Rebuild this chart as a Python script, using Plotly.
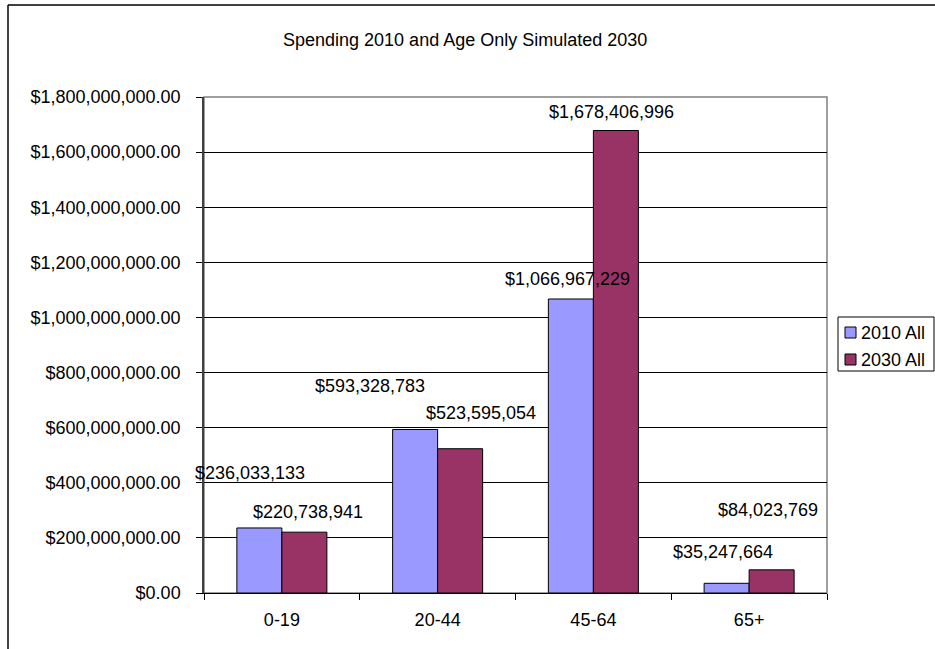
import plotly.graph_objects as go

categories = ["0-19", "20-44", "45-64", "65+"]
series_names = ["2010 All", "2030 All"]
spend_2010 = [236033133, 593328783, 1066967229, 35247664]
spend_2030 = [220738941, 523595054, 1678406996, 84023769]
y_ticks = [0, 200e6, 400e6, 600e6, 800e6, 1000e6, 1200e6, 1400e6, 1600e6, 1800e6]
title_text = "Spending 2010 and Age Only Simulated 2030"

colors = ["#9999FF", "#993366"]

# label offsets (pixels) relative to each bar's top-centre of its category
off_2010 = [(-32, 55), (-68, 44), (-26, 20), (-26, 31)]
off_2030 = [(26, 20), (43, 36), (18, 19), (19, 60)]

W, H = 935, 649
L, R, T, B = 204, 827, 97, 593
pw, ph = R - L, B - T

def px_x(p):
    return (p - L) / pw

def px_y(p):
    return (B - p) / ph

fig = go.Figure()
for name, vals, col in zip(series_names, [spend_2010, spend_2030], colors):
    fig.add_trace(go.Bar(
        x=categories, y=vals, name=name, showlegend=False,
        marker=dict(color=col, line=dict(color="black", width=1)),
    ))

font = dict(family="Liberation Sans, Arial, sans-serif", size=18, color="black")

annotations = []
for vals, offs in [(spend_2010, off_2010), (spend_2030, off_2030)]:
    for c, v, (dx, dy) in zip(categories, vals, offs):
        annotations.append(dict(
            x=c, y=v, xref="x", yref="y", text="$" + f"{v:,}",
            showarrow=False, xanchor="center", yanchor="middle",
            xshift=dx, yshift=dy, font=font,
        ))

annotations.append(dict(
    x=px_x(465), y=px_y(40), xref="paper", yref="paper", text=title_text,
    showarrow=False, xanchor="center", yanchor="middle", font=font,
))

shapes = [
    # plot area border (grey)
    dict(type="rect", xref="paper", yref="paper", x0=0, x1=1, y0=0, y1=1,
         line=dict(color="#808080", width=1.5), layer="below"),
    # outer chart border (top and left, cropped elsewhere)
    dict(type="line", xref="paper", yref="paper", x0=px_x(8), x1=px_x(940),
         y0=px_y(5), y1=px_y(5), line=dict(color="black", width=1.5)),
    dict(type="line", xref="paper", yref="paper", x0=px_x(8), x1=px_x(8),
         y0=px_y(5), y1=px_y(660), line=dict(color="black", width=1.5)),
    # legend box
    dict(type="rect", xref="paper", yref="paper", x0=px_x(838), x1=px_x(934),
         y0=px_y(371), y1=px_y(317), line=dict(color="black", width=1),
         fillcolor="white"),
]

# legend entries
for i, (name, col) in enumerate(zip(series_names, colors)):
    cy = 332.5 + 27 * i
    shapes.append(dict(
        type="rect", xref="paper", yref="paper",
        x0=px_x(845), x1=px_x(856), y0=px_y(cy + 5.5), y1=px_y(cy - 5.5),
        fillcolor=col, line=dict(color="black", width=1),
    ))
    annotations.append(dict(
        x=px_x(859), y=px_y(cy), xref="paper", yref="paper", text=name,
        showarrow=False, xanchor="left", yanchor="middle", font=font,
    ))

fig.update_layout(
    width=W, height=H,
    margin=dict(l=L, r=W - R, t=T, b=H - B, pad=0, autoexpand=False),
    paper_bgcolor="white", plot_bgcolor="white",
    barmode="group", bargap=0.422, bargroupgap=0,
    font=font,
    showlegend=False,
    annotations=annotations,
    shapes=shapes,
    xaxis=dict(
        type="category", range=[-0.5, 3.5], showline=True, linecolor="black",
        linewidth=1, ticks="outside", ticklen=6, tickcolor="black",
        tickson="boundaries", showgrid=False, ticklabelstandoff=10,
        tickfont=font, fixedrange=True, automargin=False,
    ),
    yaxis=dict(
        range=[0, 1800e6], tickvals=y_ticks, tickformat="$,.2f",
        showline=True, linecolor="#404040", linewidth=1.5,
        ticks="outside", ticklen=6, tickcolor="black",
        showgrid=True, gridcolor="black", gridwidth=1,
        ticklabelstandoff=12, tickfont=font, zeroline=False, fixedrange=True,
        automargin=False,
    ),
)

fig.write_html("out.html", config={"displayModeBar": False},
               post_script="document.body.style.margin='0px';")
